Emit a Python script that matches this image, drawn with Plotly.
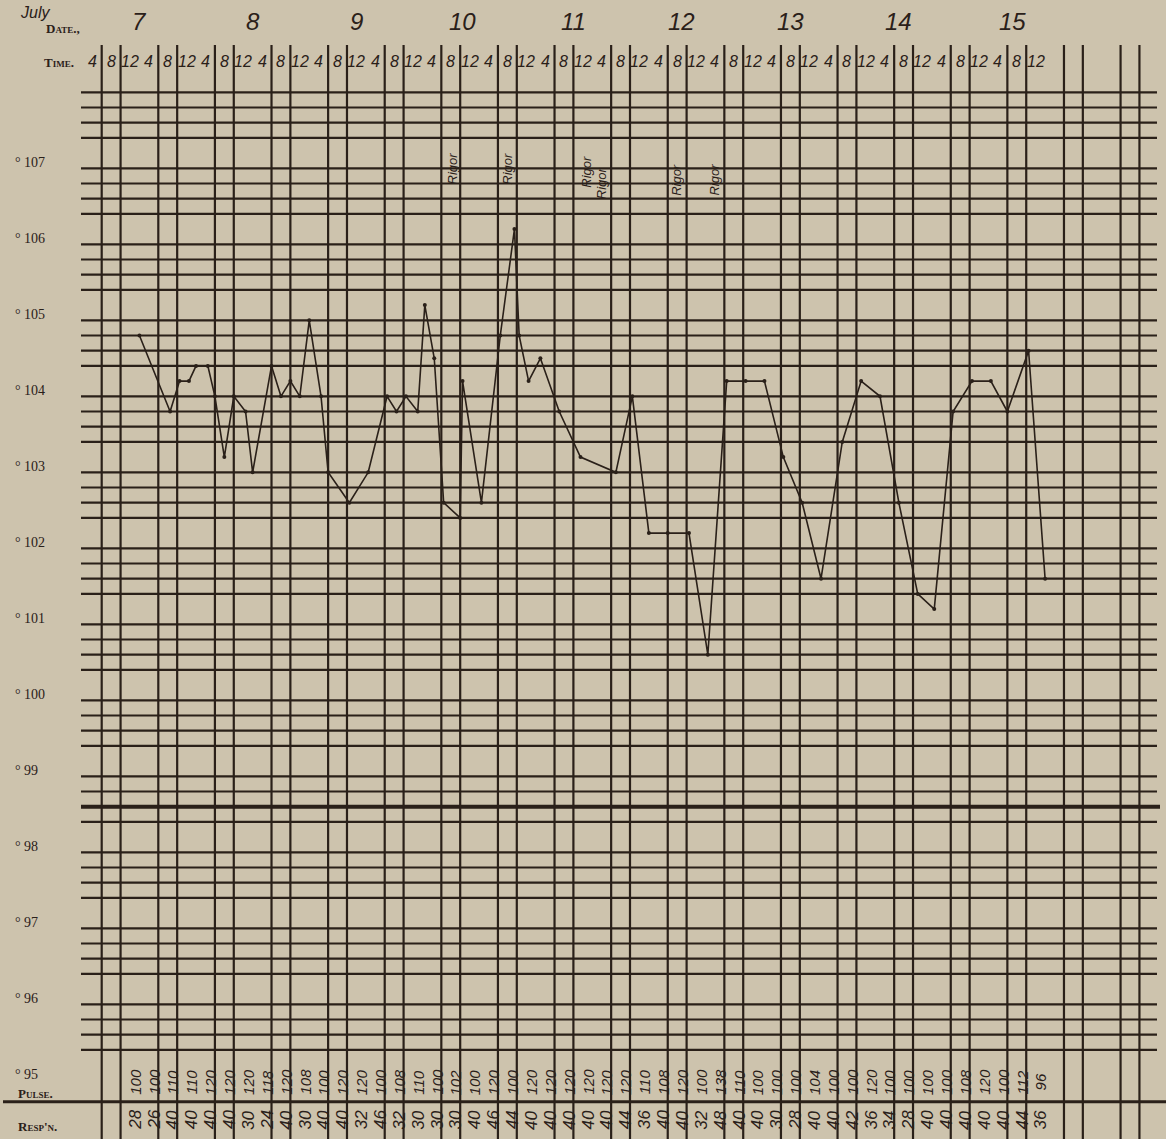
import plotly.graph_objects as go

# ---------------- data ----------------
# temperature readings: hours since the first time column, degrees F
temp_hours = [8, 14.5, 16.5, 18.5, 20, 22.5, 24, 26, 28, 30.5, 32, 36, 38, 40, 42, 44,
              46.5, 48, 52.5, 56.5, 60.5, 62.5, 64.5, 67, 68.5, 70.5, 72.5, 76, 76.5,
              80.5, 84.5, 87.5, 88.5, 90.5, 93, 97, 101.5, 109, 112.5, 116, 120, 124.5,
              128.5, 132.5, 136.5, 140.5, 144.5, 148.5, 152.5, 157, 161, 165, 169, 173,
              176.5, 180.5, 184.5, 188.5, 192, 196.5, 200]
temp_f = [104.6, 103.6, 104.0, 104.0, 104.2, 104.2, 103.8, 103.0, 103.8, 103.6, 102.8,
          104.2, 103.8, 104.0, 103.8, 104.8, 103.8, 102.8, 102.4, 102.8, 103.8, 103.6,
          103.8, 103.6, 105.0, 104.3, 102.4, 102.2, 104.0, 102.4, 104.6, 106.0, 104.6,
          104.0, 104.3, 103.6, 103.0, 102.8, 103.8, 102.0, 102.0, 102.0, 100.4, 104.0,
          104.0, 104.0, 103.0, 102.4, 101.4, 103.2, 104.0, 103.8, 102.4, 101.2, 101.0,
          103.6, 104.0, 104.0, 103.6, 104.4, 101.4]

pulse = [100, 100, 110, 110, 120, 120, 120, 118, 120, 108, 100, 120, 120, 100, 108, 110,
         100, 102, 100, 120, 100, 120, 120, 120, 120, 120, 120, 110, 108, 120, 100, 138,
         110, 100, 100, 100, 104, 100, 100, 120, 100, 100, 100, 100, 108, 120, 100, 112, 96]
resp = [28, 26, 40, 40, 40, 40, 30, 24, 40, 30, 40, 40, 32, 46, 32, 30, 30, 30, 40, 46,
        44, 40, 40, 40, 40, 40, 44, 36, 40, 40, 32, 48, 40, 40, 30, 28, 40, 40, 42, 36,
        34, 28, 40, 40, 40, 40, 40, 44, 36]

dates = ["7", "8", "9", "10", "11", "12", "13", "14", "15"]
date_hours = [8, 32, 54, 76.5, 100, 123, 146, 169, 193]

rigor_hours = [74.3, 86.0, 102.6, 106.0, 122.0, 130.0]
rigor_temp = [106.8, 106.8, 106.75, 106.6, 106.65, 106.65]

temp_ticks = [107, 106, 105, 104, 103, 102, 101, 100, 99, 98, 97, 96, 95]
time_labels = ["8", "12", "4"]

# ---------------- geometry (page pixels -> axis units) ----------------
W, H = 1166, 1139
X0_PX, PX_PER_H = 101.7, 4.717
Y_REF_PX, T_REF, PX_PER_DEG = 92.3, 107.8, 76.0


def hx(px):
    return (px - X0_PX) / PX_PER_H


def ty(py):
    return T_REF - (py - Y_REF_PX) / PX_PER_DEG


INK = "#2a2019"
PAPER = "#cdc3ad"
HAND = "Liberation Sans"
PRINT = "Liberation Serif"

fig = go.Figure()

# horizontal rules every 0.2 degree (integer degrees left open)
hx_, hy_ = [], []
for i in range(64):
    t = round(95.2 + 0.2 * i, 1)
    if abs(t - round(t)) < 1e-6 or abs(t - 98.4) < 1e-6:
        continue
    hx_ += [hx(81), hx(1157), None]
    hy_ += [t, t, None]
fig.add_trace(go.Scatter(x=hx_, y=hy_, mode="lines", line=dict(color=INK, width=2.2),
                         hoverinfo="skip", showlegend=False))
# normal-temperature rule
fig.add_trace(go.Scatter(x=[hx(81), hx(1160)], y=[98.4, 98.4], mode="lines",
                         line=dict(color=INK, width=4), hoverinfo="skip", showlegend=False))

# vertical rules: two per 12-hour block
vx_, vy_ = [], []
for k in range(19):
    for off in (0, 4):
        v = 12 * k + off
        vx_ += [v, v, None]
        vy_ += [ty(45), ty(H), None]
fig.add_trace(go.Scatter(x=vx_, y=vy_, mode="lines", line=dict(color=INK, width=2.2),
                         hoverinfo="skip", showlegend=False))

# pulse / respiration separator
fig.add_trace(go.Scatter(x=[hx(3), hx(W)], y=[ty(1101.7), ty(1101.7)], mode="lines",
                         line=dict(color=INK, width=3), hoverinfo="skip", showlegend=False))

# temperature curve
fig.add_trace(go.Scatter(x=temp_hours, y=temp_f, mode="lines+markers",
                         line=dict(color=INK, width=1.6),
                         marker=dict(color=INK, size=4),
                         hoverinfo="skip", showlegend=False))

ann = []
# temperature labels
for t in temp_ticks:
    ann.append(dict(x=hx(13), y=t - 0.12, text="° " + str(t), showarrow=False,
                    xanchor="left", yanchor="middle",
                    font=dict(family=PRINT, size=14, color=INK)))

# header labels
ann.append(dict(x=hx(18), y=ty(12), text="July", showarrow=False, xanchor="left",
                yanchor="middle", font=dict(family=HAND, size=16, color=INK, style="italic")))
ann.append(dict(x=hx(44), y=ty(28), text="Date.,", showarrow=False, xanchor="left",
                yanchor="middle", font=dict(family=PRINT, size=13, color=INK,
                                            variant="small-caps", weight="bold")))
ann.append(dict(x=hx(42), y=ty(62), text="Time.", showarrow=False, xanchor="left",
                yanchor="middle", font=dict(family=PRINT, size=13, color=INK,
                                            variant="small-caps", weight="bold")))
ann.append(dict(x=hx(16), y=ty(1093), text="Pulse.", showarrow=False, xanchor="left",
                yanchor="middle", font=dict(family=PRINT, size=13, color=INK,
                                            variant="small-caps", weight="bold")))
ann.append(dict(x=hx(16), y=ty(1126), text="Resp'n.", showarrow=False, xanchor="left",
                yanchor="middle", font=dict(family=PRINT, size=13, color=INK,
                                            variant="small-caps", weight="bold")))

# dates
for d, h in zip(dates, date_hours):
    ann.append(dict(x=h, y=ty(21), text=d, showarrow=False, xanchor="center",
                    yanchor="middle",
                    font=dict(family=HAND, size=24, color=INK, style="italic")))

# time row
ann.append(dict(x=-2, y=ty(61), text="4", showarrow=False, xanchor="center",
                yanchor="middle", font=dict(family=HAND, size=16, color=INK, style="italic")))
for k in range(17):
    for j, lab in enumerate(time_labels):
        if k == 16 and j == 2:
            continue
        ann.append(dict(x=12 * k + 2 + 4 * j, y=ty(61), text=lab, showarrow=False,
                        xanchor="center", yanchor="middle",
                        font=dict(family=HAND, size=16, color=INK, style="italic")))

# pulse and respiration columns (every 4 hours)
for i, (p, r) in enumerate(zip(pulse, resp)):
    h = 7 + 4 * i
    ann.append(dict(x=h, y=ty(1082), text=str(p), showarrow=False, textangle=-90,
                    xanchor="center", yanchor="middle",
                    font=dict(family=HAND, size=15, color=INK, style="italic")))
    ann.append(dict(x=h, y=ty(1120), text=str(r), showarrow=False, textangle=-90,
                    xanchor="center", yanchor="middle",
                    font=dict(family=HAND, size=17, color=INK, style="italic")))

# rigor notes
for h, t in zip(rigor_hours, rigor_temp):
    ann.append(dict(x=h, y=t, text="Rigor", showarrow=False, textangle=-90,
                    xanchor="center", yanchor="middle",
                    font=dict(family=HAND, size=13, color=INK, style="italic")))

fig.update_layout(
    width=W, height=H,
    margin=dict(l=0, r=0, t=0, b=0),
    paper_bgcolor=PAPER, plot_bgcolor=PAPER,
    xaxis=dict(range=[hx(0), hx(W)], visible=False, fixedrange=True),
    yaxis=dict(range=[ty(H), ty(0)], visible=False, fixedrange=True),
    annotations=ann,
    showlegend=False,
)

fig.write_html(
    "out.html",
    config={"displayModeBar": False, "staticPlot": True},
    post_script="document.body.style.margin='0';document.body.style.padding='0';"
                "document.body.style.overflow='hidden';",
)
